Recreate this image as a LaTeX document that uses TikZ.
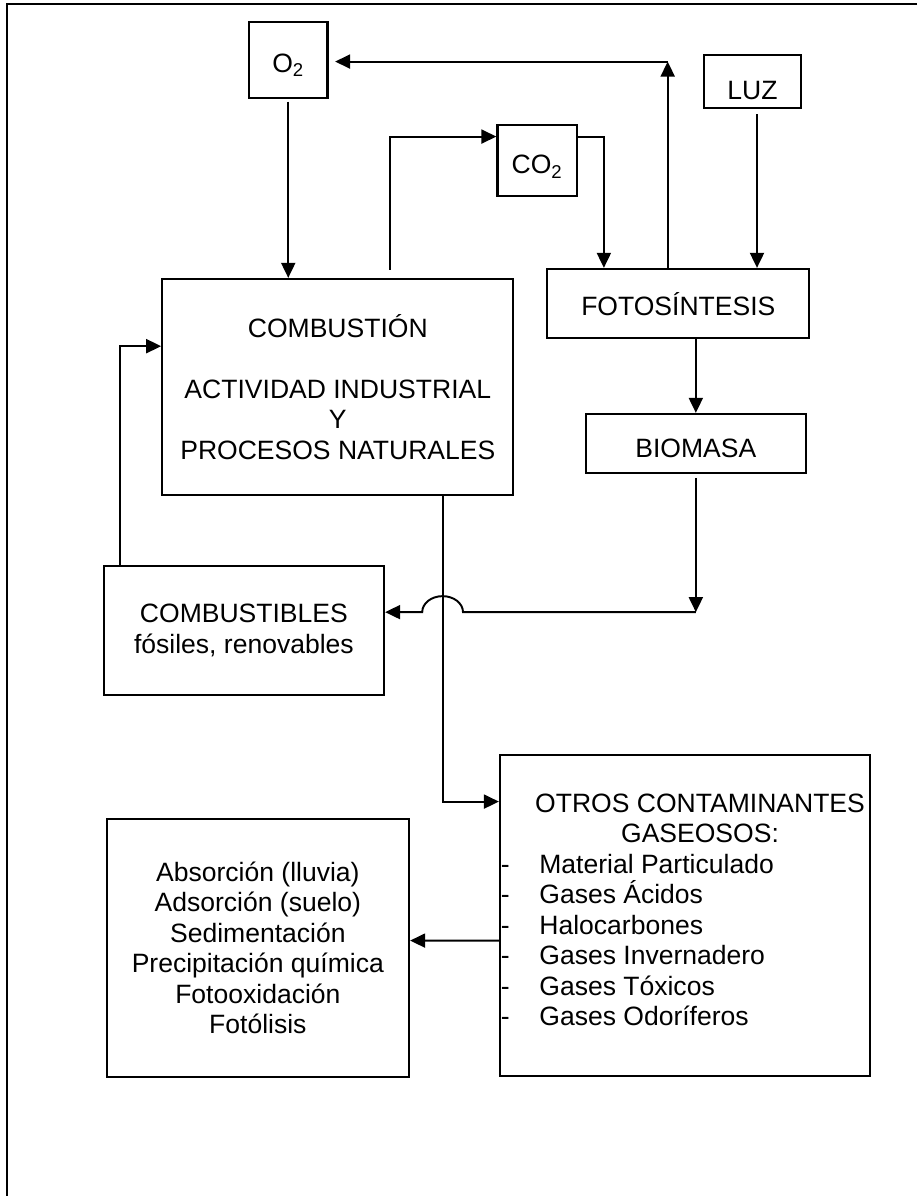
\documentclass[tikz,border=0pt]{standalone}
\usepackage{fontspec}
\setmainfont{Liberation Sans}
\usetikzlibrary{positioning,calc,arrows.meta}

\begin{document}
\begin{tikzpicture}[x=0.02cm, y=-0.02cm,
				box/.style={rectangle, draw=black, line width=1.3pt, inner sep=0pt, align=center, font=\fontsize{15.1pt}{17.4pt}\selectfont},
				txt/.style={rectangle, inner sep=0pt, font=\fontsize{15.1pt}{17.4pt}\selectfont},
				frame/.style={line width=1.2pt}
			]
			\useasboundingbox (0,0) rectangle (917,1196);
			\draw[frame] (917,4) -- (7,4) -- (7,1196);
			\node[box, minimum width=1.57cm, minimum height=1.52cm, text height=0.58cm] (o2) at (288.25,60) {O\textsubscript{2}};
			\node[box, minimum width=1.94cm, minimum height=1.054cm, text height=0.74cm] (luz) at (752.5,81.35) {LUZ};
			\node[box, minimum width=1.584cm, minimum height=1.414cm, text height=0.63cm] (co2) at (537.1,160.35) {CO\textsubscript{2}};
			\node[box, minimum width=5.24cm, minimum height=1.386cm] (foto) at (678.3,303.65) {FOTOSÍNTESIS};
			\node[box, minimum width=4.406cm, minimum height=1.186cm, text height=0.56cm] (biomasa) at (695.85,443.65) {BIOMASA};
			\node[box, minimum width=7.02cm, minimum height=4.32cm] (comb) at (337.8,387) {COMBUSTIÓN\\[17.4pt]ACTIVIDAD INDUSTRIAL\\Y\\PROCESOS NATURALES};
			\node[box, minimum width=5.605cm, minimum height=2.58cm] (fuel) at (243.9,630.5) {COMBUSTIBLES\\fósiles, renovables};
			\node[box, minimum width=7.4cm, minimum height=6.426cm] (otros) at (685,915.65) {};
			\node[box, minimum width=6.046cm, minimum height=5.154cm] (sinks) at (257.85,947.85) {Absorción (lluvia)\\Adsorción (suelo)\\Sedimentación\\Precipitación química\\Fotooxidación\\Fotólisis};
			\node[txt, anchor=base] (otros1) at (700,812.8) {OTROS CONTAMINANTES};
			\node[txt, anchor=base] (otros2) at (700,842.5) {GASEOSOS:};
			\foreach \g [count=\i] in {Material Particulado, Gases Ácidos, Halocarbones, Gases Invernadero, Gases Tóxicos, Gases Odoríferos} {
				\node[txt, anchor=base west] (dash\i) at (500.5,842.5+30.5*\i) {-};
				\node[txt, anchor=base west] (gas\i) at (539,842.5+30.5*\i) {\g};
			}
			\coordinate (combout) at ($(comb.north west)+(228.5,-8)$);
			\coordinate (combdown) at ($(comb.south west)+(281.4,0)$);
			\coordinate (up) at ($(foto.north west)+(121.5,-206.3)$);
			\coordinate (luzout) at ($(luz.south)+(4.5,0)$);
			\coordinate (bend) at ($(biomasa.south)+(0,137.7)$);
			\begin{scope}[line width=1.1pt, -{Triangle[length=0.3cm,width=0.28cm]}]
			\draw[shorten <=0.05cm] (o2.south) -- (o2.south |- comb.north);
			\draw (combout) |- ($(co2.north west)+(0,12.7)$);
			\draw ($(co2.north east)+(0,12.7)$) -| ($(foto.north west)+(57.7,0)$);
			\draw ($(foto.north west)+(121.5,0)$) -- (up);
			\draw[shorten >=0.13cm] (up) -- (up -| o2.east);
			\draw[shorten <=0.11cm] (luzout) -- (luzout |- foto.north);
			\draw (biomasa.north |- foto.south) -- (biomasa.north);
			\draw[shorten <=0.07cm] (biomasa.south) -- (bend);
			\draw (bend) -- ($(combdown |- bend)+(20.4,0)$) arc[start angle=0, end angle=180, x radius=0.408cm, y radius=0.32cm] -- (fuel.east |- bend);
			\draw (combdown) |- ($(otros.north west)+(0,47.7)$);
			\draw ($(fuel.north west)+(17.25,0)$) |- ($(comb.north west)+(0,68.3)$);
			\draw ($(otros.north west)+(0,186.7)$) -- ($(sinks.north east)+(0,122.7)$);
			\end{scope}
			\end{tikzpicture}
\end{document}
